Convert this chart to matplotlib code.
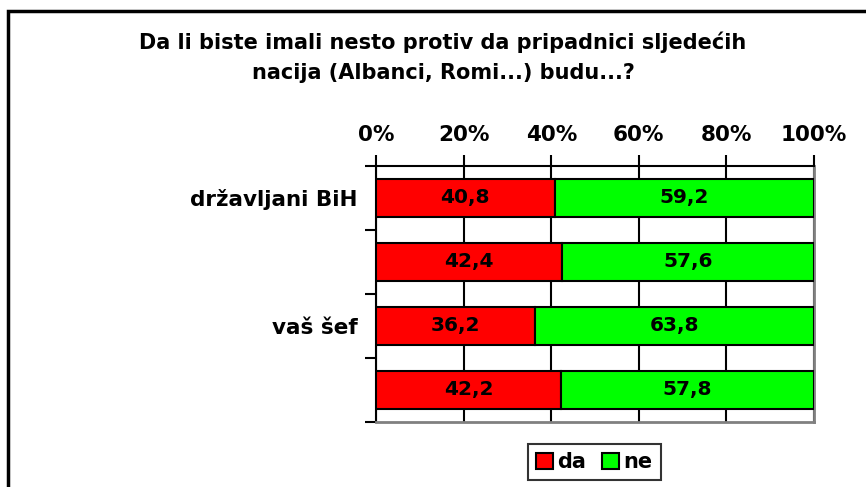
import matplotlib
matplotlib.use("Agg")
import matplotlib.pyplot as plt
from matplotlib.patches import Rectangle, Patch

# data
categories = ["državljani BiH", "", "vaš šef", ""]
da_values = [40.8, 42.4, 36.2, 42.2]
ne_values = [59.2, 57.6, 63.8, 57.8]
series_names = ["da", "ne"]
x_ticks = [0, 20, 40, 60, 80, 100]
x_tick_labels = ["0%", "20%", "40%", "60%", "80%", "100%"]
title = "Da li biste imali nesto protiv da pripadnici sljedećih\nnacija (Albanci, Romi...) budu...?"

RED = "#FF0000"
GREEN = "#00FF00"
W, H = 866, 487

plt.rcParams['font.family'] = ['DejaVu Sans']
fig = plt.figure(figsize=(W / 100, H / 100), dpi=100)

# outer frame (only left/top edges visible)
fig.patches.append(Rectangle((8 / W, -0.1), 1.2, 1 - 11 / H + 0.1,
                             transform=fig.transFigure, fill=False,
                             edgecolor="black", linewidth=2.5, zorder=0))

ax = fig.add_axes([376 / W, 1 - 422 / H, (814 - 376) / W, (422 - 166) / H])

y = list(range(len(categories)))
bar_h = 0.58
ax.barh(y, da_values, height=bar_h, color=RED, edgecolor="black",
        linewidth=1.5, label=series_names[0], zorder=3)
ax.barh(y, ne_values, left=da_values, height=bar_h, color=GREEN,
        edgecolor="black", linewidth=1.5, label=series_names[1], zorder=3)

for i in y:
    ax.text(da_values[i] / 2, i, f"{da_values[i]:.1f}".replace(".", ","),
            ha="center", va="center", fontsize=14.5, fontweight="bold", zorder=4)
    ax.text(da_values[i] + ne_values[i] / 2, i,
            f"{ne_values[i]:.1f}".replace(".", ","),
            ha="center", va="center", fontsize=14.5, fontweight="bold", zorder=4)

ax.set_xlim(0, 100)
ax.set_ylim(len(categories) - 0.5, -0.5)

# x axis on top
ax.xaxis.tick_top()
ax.set_xticks(x_ticks)
ax.set_xticklabels(x_tick_labels, fontsize=15.5, fontweight="bold")
ax.tick_params(axis="x", direction="out", length=8, width=1.5, pad=7)
ax.grid(axis="x", color="black", linewidth=1.5, zorder=1)

# y: labels at centers, ticks at boundaries
ax.set_yticks(y)
ax.set_yticklabels(categories, fontsize=15.5, fontweight="bold")
ax.tick_params(axis="y", which="major", length=0, pad=13)
ax.set_yticks([i - 0.5 for i in range(len(categories) + 1)], minor=True)
ax.tick_params(axis="y", which="minor", direction="out", length=8, width=1.5)

for side in ["top", "left"]:
    ax.spines[side].set_color("black")
    ax.spines[side].set_linewidth(1.5)
for side in ["right", "bottom"]:
    ax.spines[side].set_color("#808080")
    ax.spines[side].set_linewidth(2)

fig.text(443 / W, 1 - 57 / H, title, ha="center", va="center",
         fontsize=15, fontweight="bold", linespacing=1.6)

handles = [Patch(facecolor=RED, edgecolor="black", linewidth=1.5),
           Patch(facecolor=GREEN, edgecolor="black", linewidth=1.5)]
leg = fig.legend(handles, series_names, loc="center",
                 bbox_to_anchor=(594 / W, 1 - 462 / H), ncol=2,
                 fontsize=15, frameon=True, fancybox=False,
                 handlelength=0.8, handleheight=0.8, handletextpad=0.2,
                 columnspacing=0.8, borderpad=0.4)
leg.get_frame().set_edgecolor("black")
leg.get_frame().set_linewidth(1.5)
for t in leg.get_texts():
    t.set_fontweight("bold")

fig.savefig("out.png", dpi=100)
